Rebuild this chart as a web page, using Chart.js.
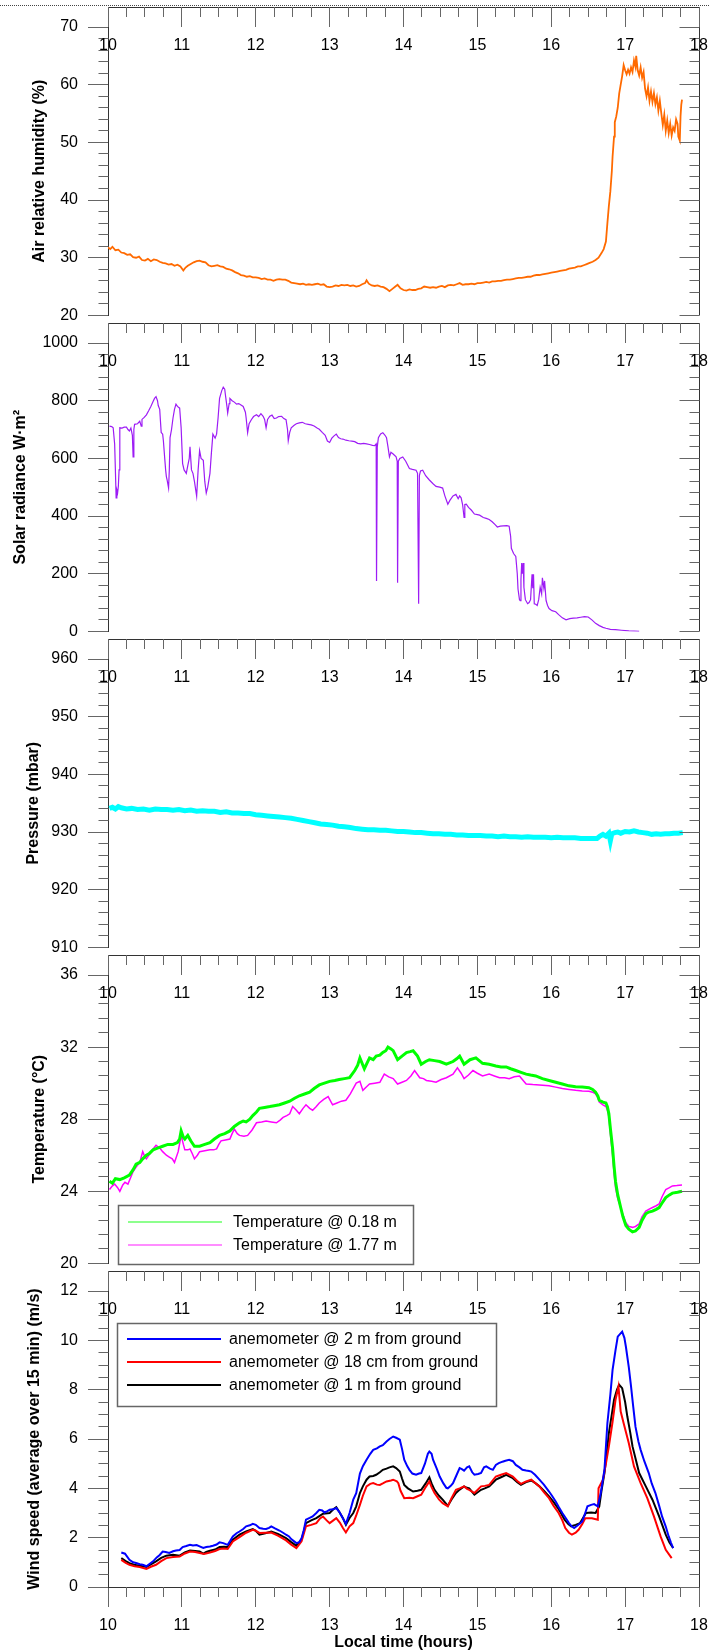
<!DOCTYPE html>
<html>
<head>
<meta charset="utf-8">
<script src="https://cdn.jsdelivr.net/npm/chart.js@4.4.1/dist/chart.umd.min.js"></script>
<style>
  html, body { margin: 0; padding: 0; background: #fff; }
  #wrap { position: relative; width: 709px; height: 1652px; overflow: hidden; }
  #wrap canvas { position: absolute; left: 0; }
  .dots { position: absolute; left: 0; top: 5px; width: 709px; border-top: 1px dotted #444; }
</style>
</head>
<body>
<div id="wrap">
  <div class="dots"></div>
  <canvas id="c1"></canvas>
  <canvas id="c2"></canvas>
  <canvas id="c3"></canvas>
  <canvas id="c4"></canvas>
  <canvas id="c5"></canvas>
</div>
<script>
const FONT = 'Arial, "Liberation Sans", sans-serif';

// axis ticks
const hourTicks = [10, 11, 12, 13, 14, 15, 16, 17, 18];
const humidityTicks = [20, 30, 40, 50, 60, 70];
const radianceTicks = [0, 200, 400, 600, 800, 1000];
const pressureTicks = [910, 920, 930, 940, 950, 960];
const tempTicks = [20, 24, 28, 32, 36];
const windTicks = [0, 2, 4, 6, 8, 10, 12];

// relative humidity (%)
const humT = [10.00,10.03,10.06,10.10,10.14,10.18,10.22,10.26,10.30,10.34,10.38,10.42,10.46,10.50,10.54,10.58,10.62,10.66,10.70,10.74,10.78,10.82,10.86,10.90,10.94,10.98,11.02,11.05,11.08,11.12,11.16,11.20,11.24,11.28,11.32,11.36,11.40,11.44,11.48,11.52,11.56,11.60,11.64,11.68,11.72,11.76,11.80,11.84,11.88,11.92,11.96,12.00,12.04,12.08,12.12,12.16,12.20,12.24,12.28,12.32,12.36,12.40,12.44,12.48,12.52,12.56,12.60,12.64,12.68,12.72,12.76,12.80,12.84,12.88,12.92,12.96,13.00,13.04,13.08,13.12,13.16,13.20,13.24,13.28,13.32,13.36,13.40,13.44,13.48,13.50,13.53,13.57,13.61,13.65,13.69,13.73,13.77,13.81,13.85,13.89,13.92,13.96,14.00,14.04,14.08,14.12,14.16,14.20,14.24,14.28,14.32,14.36,14.40,14.44,14.48,14.52,14.56,14.60,14.64,14.68,14.72,14.76,14.80,14.84,14.88,14.92,14.96,15.00,15.04,15.08,15.12,15.16,15.20,15.24,15.28,15.32,15.36,15.40,15.44,15.48,15.52,15.56,15.60,15.64,15.68,15.72,15.76,15.80,15.84,15.88,15.92,15.96,16.00,16.04,16.08,16.12,16.16,16.20,16.24,16.28,16.32,16.36,16.40,16.44,16.48,16.52,16.56,16.60,16.64,16.68,16.71,16.74,16.76,16.78,16.80,16.82,16.83,16.85,16.86,16.88,16.90,16.92,16.94,16.96,16.98,17.00,17.02,17.04,17.06,17.08,17.10,17.12,17.14,17.15,17.17,17.19,17.21,17.23,17.25,17.27,17.29,17.31,17.33,17.35,17.37,17.39,17.41,17.43,17.45,17.47,17.49,17.51,17.53,17.55,17.57,17.59,17.61,17.63,17.65,17.67,17.69,17.71,17.72,17.74,17.75,17.76,17.77];
const humV = [31.8,31.5,31.9,31.3,31.4,30.9,30.8,30.5,30.6,30.1,30.0,30.2,29.6,29.5,29.8,29.4,29.7,29.6,29.3,29.1,29.0,28.8,28.9,28.6,28.8,28.5,27.8,28.3,28.6,28.9,29.2,29.4,29.5,29.3,29.2,28.7,28.5,28.6,28.7,28.5,28.4,28.1,28.0,27.8,27.5,27.3,27.0,26.9,26.7,26.8,26.6,26.6,26.5,26.3,26.4,26.2,26.2,26.0,26.2,26.3,26.2,26.2,26.0,25.7,25.6,25.5,25.4,25.5,25.3,25.4,25.3,25.4,25.5,25.3,25.4,25.0,24.9,25.0,25.2,25.1,25.3,25.2,25.3,25.1,25.2,25.0,25.1,25.4,25.6,26.1,25.5,25.2,25.1,25.2,25.0,24.9,24.6,24.2,24.6,25.0,25.3,24.7,24.4,24.3,24.5,24.4,24.4,24.6,24.7,25.0,24.9,24.8,24.9,24.8,25.0,25.1,24.9,25.2,25.3,25.2,25.4,25.6,25.3,25.4,25.4,25.5,25.4,25.6,25.6,25.7,25.8,25.7,25.9,25.9,26.0,26.0,26.1,26.2,26.2,26.3,26.4,26.5,26.5,26.6,26.7,26.7,26.9,27.0,27.0,27.1,27.2,27.3,27.4,27.5,27.6,27.7,27.8,27.9,28.1,28.2,28.3,28.5,28.5,28.7,28.9,29.1,29.3,29.6,30.0,30.8,31.5,32.8,36.0,39.0,41.5,45.0,47.5,51.0,53.5,54.5,56.0,58.5,60.0,61.5,63.4,62.5,61.8,62.6,61.9,63.0,62.2,64.2,63.1,65.0,62.5,61.6,63.0,61.2,62.2,59.3,58.0,59.5,57.2,58.8,57.0,58.5,56.6,57.8,55.5,57.2,55.0,53.0,54.8,52.0,53.8,51.6,53.2,51.2,52.6,52.0,54.0,53.2,51.0,50.3,54.5,56.5,57.4];

// solar radiance (W/m2)
const radT = [10.02,10.05,10.07,10.09,10.10,10.11,10.12,10.13,10.14,10.15,10.16,10.19,10.22,10.25,10.27,10.29,10.31,10.33,10.34,10.35,10.36,10.40,10.43,10.45,10.46,10.49,10.52,10.55,10.58,10.61,10.63,10.65,10.67,10.68,10.70,10.71,10.72,10.74,10.75,10.77,10.78,10.79,10.80,10.82,10.83,10.84,10.86,10.88,10.90,10.92,10.94,10.97,10.99,11.01,11.03,11.06,11.08,11.10,11.11,11.13,11.15,11.17,11.20,11.22,11.24,11.26,11.29,11.31,11.33,11.35,11.38,11.40,11.42,11.45,11.47,11.49,11.51,11.54,11.56,11.58,11.59,11.61,11.62,11.64,11.65,11.68,11.71,11.74,11.77,11.80,11.83,11.86,11.87,11.89,11.91,11.94,11.97,12.01,12.04,12.07,12.10,12.12,12.14,12.16,12.19,12.22,12.25,12.28,12.31,12.35,12.38,12.41,12.43,12.44,12.46,12.48,12.52,12.55,12.59,12.63,12.67,12.71,12.75,12.79,12.83,12.86,12.90,12.94,12.97,13.00,13.03,13.06,13.09,13.12,13.15,13.18,13.22,13.26,13.30,13.34,13.38,13.42,13.46,13.50,13.54,13.58,13.61,13.63,13.635,13.645,13.66,13.69,13.72,13.75,13.77,13.79,13.81,13.83,13.86,13.90,13.915,13.92,13.93,13.95,13.99,14.03,14.08,14.12,14.17,14.19,14.205,14.215,14.23,14.26,14.30,14.35,14.40,14.44,14.49,14.53,14.56,14.60,14.63,14.67,14.71,14.74,14.76,14.78,14.80,14.82,14.83,14.85,14.88,14.92,14.96,15.00,15.03,15.08,15.12,15.16,15.20,15.24,15.27,15.31,15.35,15.40,15.43,15.45,15.46,15.49,15.52,15.54,15.55,15.57,15.58,15.59,15.60,15.61,15.62,15.63,15.65,15.68,15.70,15.72,15.74,15.75,15.76,15.77,15.79,15.81,15.83,15.85,15.87,15.88,15.90,15.91,15.93,15.95,15.97,16.01,16.06,16.10,16.15,16.20,16.25,16.30,16.35,16.40,16.45,16.50,16.55,16.60,16.65,16.70,16.74,16.80,16.87,16.95,17.05,17.19];
const radV = [712,710,706,650,560,463,490,480,503,560,706,705,708,708,700,695,705,680,605,700,718,720,729,712,735,742,751,765,780,797,808,814,800,783,770,729,690,684,660,593,560,537,525,497,560,672,700,740,770,788,780,774,706,582,560,548,575,600,640,560,548,520,469,560,627,600,593,520,480,500,548,620,684,670,684,740,808,835,847,840,819,780,757,790,808,800,795,788,790,785,780,760,740,689,720,734,745,751,745,755,746,735,706,735,746,750,738,740,745,746,738,734,700,661,690,706,715,720,723,725,720,718,716,712,705,701,690,680,660,655,670,678,684,672,668,667,663,661,660,658,652,650,652,650,648,645,644,650,175,640,672,685,689,680,672,640,605,621,615,605,590,169,590,600,605,590,565,562,559,548,96,540,556,559,540,525,512,503,500,497,470,441,455,470,475,460,470,463,440,395,440,441,430,420,407,405,403,395,392,388,380,370,362,365,366,367,365,330,288,270,260,200,147,110,107,180,237,200,237,153,110,96,100,110,198,150,198,96,94,90,110,153,130,186,150,175,107,90,79,72,68,58,47,40,44,46,47,49,51,50,40,28,20,14,11,7,6,4,2,0];

// pressure (mbar)
const presT = [10.02,10.06,10.10,10.14,10.18,10.25,10.32,10.40,10.48,10.56,10.64,10.72,10.80,10.88,10.96,11.04,11.12,11.20,11.28,11.36,11.44,11.52,11.60,11.68,11.76,11.84,11.92,12.00,12.08,12.16,12.24,12.32,12.40,12.48,12.56,12.64,12.72,12.80,12.88,12.96,13.04,13.12,13.20,13.28,13.36,13.44,13.52,13.60,13.68,13.76,13.84,13.92,14.00,14.08,14.16,14.24,14.32,14.40,14.48,14.56,14.64,14.72,14.80,14.88,14.96,15.04,15.12,15.20,15.28,15.36,15.44,15.52,15.60,15.68,15.76,15.84,15.92,16.00,16.08,16.16,16.24,16.32,16.40,16.48,16.56,16.62,16.66,16.70,16.74,16.78,16.80,16.82,16.86,16.90,16.94,17.00,17.06,17.12,17.18,17.24,17.30,17.36,17.42,17.48,17.54,17.60,17.66,17.72,17.78];
const presV = [934.1,934.3,934.0,934.4,934.2,934.0,934.1,933.9,934.0,933.8,934.0,933.9,933.9,933.8,933.9,933.7,933.8,933.6,933.7,933.6,933.6,933.4,933.5,933.3,933.3,933.2,933.2,933.0,932.9,932.8,932.7,932.6,932.5,932.4,932.2,932.0,931.8,931.6,931.4,931.3,931.2,931.0,930.9,930.8,930.6,930.5,930.4,930.4,930.3,930.3,930.2,930.1,930.1,930.0,929.9,929.9,929.8,929.7,929.7,929.6,929.6,929.5,929.5,929.4,929.4,929.4,929.3,929.3,929.2,929.3,929.2,929.2,929.1,929.2,929.1,929.1,929.1,929.0,929.1,929.0,929.0,929.0,928.9,928.9,928.9,928.9,929.3,929.6,929.3,929.8,928.5,929.7,929.9,930.0,929.8,930.1,930.0,930.2,930.0,929.9,929.8,929.6,929.7,929.6,929.7,929.7,929.8,929.8,929.9];

// temperature @ 0.18 m
const t018T = [10.02,10.06,10.10,10.16,10.22,10.29,10.34,10.38,10.43,10.47,10.52,10.56,10.61,10.67,10.74,10.81,10.88,10.94,10.97,10.99,11.02,11.04,11.08,11.12,11.17,11.24,11.31,11.38,11.44,11.51,11.58,11.65,11.71,11.78,11.83,11.87,11.92,11.96,12.01,12.05,12.12,12.19,12.25,12.32,12.39,12.46,12.52,12.59,12.66,12.73,12.79,12.86,12.93,13.00,13.07,13.13,13.20,13.27,13.34,13.38,13.41,13.47,13.54,13.59,13.63,13.68,13.72,13.76,13.79,13.83,13.86,13.92,13.98,14.04,14.09,14.13,14.19,14.24,14.30,14.35,14.42,14.49,14.58,14.67,14.72,14.76,14.82,14.90,14.98,15.07,15.16,15.25,15.32,15.39,15.45,15.52,15.59,15.66,15.72,15.79,15.88,15.97,16.06,16.15,16.24,16.33,16.42,16.51,16.56,16.60,16.63,16.65,16.70,16.74,16.76,16.78,16.80,16.83,16.85,16.87,16.90,16.94,16.97,17.01,17.05,17.10,17.14,17.19,17.23,17.28,17.32,17.37,17.42,17.46,17.50,17.55,17.60,17.64,17.71,17.77];
const t018V = [24.56,24.45,24.7,24.65,24.75,24.9,25.2,25.5,25.6,25.8,26.0,26.1,26.3,26.4,26.5,26.6,26.6,26.7,26.9,27.35,27.0,26.9,27.1,26.8,26.5,26.5,26.6,26.7,26.9,27.1,27.2,27.35,27.6,27.8,27.9,27.85,28.0,28.2,28.4,28.6,28.65,28.7,28.75,28.8,28.9,29.0,29.15,29.3,29.4,29.5,29.7,29.9,30.0,30.1,30.15,30.2,30.25,30.3,30.7,31.0,31.4,30.8,31.4,31.3,31.5,31.55,31.7,31.8,32.0,31.9,31.8,31.3,31.5,31.7,31.75,31.8,31.5,31.05,31.2,31.3,31.25,31.2,31.05,31.2,31.35,31.5,31.05,31.3,31.4,31.1,31.05,30.95,30.9,30.9,30.8,30.7,30.6,30.5,30.45,30.4,30.25,30.15,30.05,29.95,29.85,29.8,29.78,29.75,29.65,29.5,29.3,29.05,28.95,28.9,28.7,28.3,27.5,26.4,25.4,24.55,23.8,23.1,22.6,22.1,21.9,21.75,21.8,22.0,22.4,22.75,22.85,22.9,23.0,23.1,23.35,23.65,23.8,23.9,23.95,24.0];

// temperature @ 1.77 m
const t177T = [10.02,10.06,10.09,10.13,10.16,10.20,10.23,10.27,10.30,10.34,10.38,10.43,10.47,10.50,10.52,10.57,10.61,10.65,10.70,10.74,10.79,10.83,10.87,10.90,10.95,10.99,11.02,11.04,11.08,11.11,11.14,11.17,11.21,11.24,11.31,11.38,11.43,11.47,11.50,11.53,11.59,11.65,11.68,11.71,11.75,11.78,11.84,11.89,11.95,12.01,12.08,12.14,12.21,12.28,12.33,12.37,12.42,12.46,12.50,12.55,12.59,12.64,12.68,12.73,12.77,12.82,12.86,12.92,12.98,13.04,13.10,13.16,13.22,13.28,13.36,13.41,13.45,13.50,13.54,13.61,13.68,13.74,13.80,13.86,13.92,13.98,14.04,14.10,14.15,14.22,14.27,14.31,14.38,14.44,14.51,14.58,14.67,14.73,14.78,14.82,14.88,14.94,15.00,15.07,15.16,15.23,15.30,15.37,15.43,15.50,15.57,15.62,15.66,15.75,15.84,15.97,16.06,16.15,16.24,16.33,16.42,16.51,16.56,16.60,16.63,16.65,16.70,16.74,16.76,16.78,16.80,16.83,16.85,16.87,16.90,16.94,16.97,17.01,17.05,17.10,17.14,17.19,17.23,17.28,17.32,17.37,17.42,17.46,17.50,17.55,17.60,17.64,17.70,17.77];
const t177V = [24.1,24.3,24.4,24.2,24.0,24.35,24.5,24.4,24.7,25.1,25.35,25.6,26.2,25.9,25.8,26.1,26.35,26.55,26.4,26.2,26.0,25.9,25.8,25.6,26.2,27.1,26.6,26.3,26.3,26.35,26.1,25.8,26.0,26.2,26.25,26.3,26.3,26.35,26.6,26.8,26.85,26.9,27.2,27.45,27.2,27.1,27.05,27.1,27.4,27.8,27.85,27.9,27.85,27.8,27.95,28.1,28.2,28.3,28.7,28.5,28.3,28.6,28.8,28.6,28.5,28.7,28.9,29.1,29.25,28.8,28.9,29.0,29.05,29.4,30.0,30.1,29.6,29.8,29.95,30.0,30.05,30.5,30.35,30.25,29.95,30.05,30.15,30.4,30.7,30.3,30.25,30.15,30.1,30.05,30.2,30.3,30.5,30.85,30.55,30.25,30.45,30.7,30.55,30.4,30.5,30.4,30.3,30.3,30.25,30.35,30.4,30.15,29.95,29.92,29.9,29.85,29.78,29.7,29.65,29.6,29.57,29.55,29.5,29.4,29.2,28.95,28.8,28.7,28.5,28.15,27.2,26.0,25.0,24.2,23.6,23.1,22.7,22.25,22.05,22.0,22.05,22.2,22.6,22.9,23.0,23.1,23.2,23.3,23.7,24.1,24.2,24.3,24.32,24.35];

// wind speed, anemometer @ 2 m
const w2T = [10.18,10.23,10.29,10.34,10.38,10.43,10.47,10.52,10.57,10.61,10.66,10.70,10.74,10.78,10.83,10.88,10.92,10.97,11.01,11.06,11.11,11.15,11.20,11.24,11.29,11.33,11.38,11.42,11.47,11.51,11.56,11.62,11.65,11.69,11.74,11.78,11.83,11.87,11.92,11.96,12.00,12.05,12.10,12.14,12.18,12.21,12.26,12.32,12.37,12.41,12.45,12.48,12.52,12.55,12.59,12.62,12.65,12.68,12.73,12.77,12.82,12.86,12.90,12.93,12.97,13.00,13.05,13.09,13.13,13.18,13.22,13.27,13.32,13.36,13.41,13.45,13.50,13.55,13.59,13.64,13.68,13.72,13.77,13.81,13.86,13.90,13.95,13.98,14.01,14.05,14.08,14.12,14.17,14.21,14.24,14.29,14.33,14.35,14.38,14.40,14.45,14.49,14.54,14.58,14.60,14.64,14.67,14.72,14.76,14.79,14.82,14.86,14.89,14.93,14.96,15.01,15.05,15.09,15.12,15.17,15.21,15.25,15.29,15.34,15.38,15.43,15.48,15.52,15.57,15.61,15.66,15.70,15.73,15.78,15.84,15.90,15.97,16.01,16.06,16.10,16.15,16.20,16.24,16.28,16.31,16.36,16.42,16.46,16.49,16.54,16.58,16.63,16.67,16.72,16.76,16.80,16.83,16.87,16.90,16.93,16.96,16.99,17.01,17.05,17.08,17.11,17.14,17.18,17.21,17.26,17.32,17.36,17.41,17.46,17.50,17.55,17.59,17.62,17.65];
const w2V = [1.40,1.35,1.10,1.00,0.97,0.92,0.90,0.84,0.95,1.04,1.20,1.30,1.44,1.42,1.38,1.45,1.48,1.50,1.62,1.66,1.71,1.68,1.70,1.65,1.58,1.62,1.64,1.67,1.72,1.81,1.78,1.71,1.85,2.05,2.18,2.25,2.35,2.46,2.50,2.56,2.52,2.39,2.36,2.35,2.40,2.46,2.38,2.29,2.20,2.12,2.05,1.94,1.85,1.78,1.82,1.98,2.30,2.73,2.80,2.86,3.00,3.13,3.10,3.02,3.08,3.13,3.15,3.20,3.05,2.79,2.56,3.00,3.54,3.80,4.60,4.90,5.16,5.40,5.56,5.62,5.70,5.75,5.90,6.00,6.10,6.05,5.97,5.60,5.16,4.90,4.75,4.60,4.55,4.60,4.62,5.00,5.40,5.49,5.40,5.16,4.80,4.48,4.20,4.02,4.00,4.10,4.21,4.55,4.82,4.78,4.72,4.85,4.89,4.65,4.55,4.58,4.62,4.85,4.89,4.80,4.75,4.95,5.02,5.08,5.12,5.16,5.10,4.95,4.85,4.75,4.72,4.70,4.68,4.55,4.35,4.15,3.87,3.70,3.47,3.25,3.00,2.78,2.59,2.45,2.39,2.50,2.66,3.00,3.27,3.33,3.36,3.27,3.81,4.75,6.64,7.80,8.80,9.60,10.15,10.25,10.35,10.10,9.75,8.90,8.13,7.30,6.50,5.90,5.56,5.10,4.62,4.20,3.81,3.30,2.86,2.45,2.05,1.80,1.58];

// wind speed, anemometer @ 18 cm
const w018T = [10.18,10.24,10.29,10.36,10.43,10.52,10.58,10.65,10.72,10.79,10.88,10.97,11.04,11.11,11.18,11.24,11.30,11.38,11.45,11.51,11.57,11.62,11.69,11.78,11.87,11.96,12.00,12.05,12.13,12.21,12.30,12.41,12.48,12.55,12.62,12.68,12.75,12.82,12.87,12.91,12.96,13.00,13.05,13.09,13.14,13.18,13.22,13.27,13.32,13.36,13.41,13.45,13.50,13.55,13.59,13.64,13.68,13.72,13.77,13.83,13.86,13.91,13.93,13.96,14.01,14.08,14.13,14.19,14.24,14.30,14.35,14.38,14.42,14.48,14.53,14.60,14.65,14.71,14.76,14.82,14.86,14.89,14.96,15.05,15.10,15.16,15.25,15.32,15.39,15.48,15.54,15.59,15.66,15.73,15.79,15.84,15.90,15.97,16.03,16.10,16.15,16.19,16.24,16.28,16.33,16.37,16.42,16.46,16.55,16.63,16.64,16.70,16.74,16.78,16.83,16.87,16.91,16.94,16.98,17.05,17.12,17.21,17.30,17.39,17.48,17.55,17.63];
const w018V = [1.10,0.98,0.90,0.84,0.81,0.73,0.82,0.90,1.05,1.17,1.22,1.24,1.36,1.44,1.42,1.38,1.34,1.40,1.46,1.54,1.56,1.54,1.85,2.02,2.20,2.32,2.28,2.19,2.20,2.21,2.08,1.89,1.72,1.58,1.85,2.46,2.52,2.59,2.78,2.86,2.70,2.59,2.70,2.79,2.60,2.39,2.21,2.46,2.59,2.90,3.33,3.70,4.08,4.18,4.21,4.15,4.14,4.20,4.28,4.32,4.35,4.28,4.21,3.90,3.60,3.62,3.60,3.68,3.74,4.05,4.28,4.05,3.81,3.55,3.40,3.27,3.60,3.94,4.00,4.08,3.98,3.94,3.81,4.08,4.10,4.14,4.48,4.55,4.62,4.48,4.30,4.18,4.28,4.35,4.20,4.08,3.85,3.60,3.30,3.00,2.70,2.39,2.20,2.12,2.20,2.32,2.55,2.79,2.79,2.73,4.00,4.35,5.00,5.70,6.70,7.59,8.13,7.11,6.64,5.83,4.89,4.21,3.60,2.86,2.05,1.51,1.17];

// wind speed, anemometer @ 1 m
const w1T = [10.18,10.24,10.29,10.35,10.43,10.52,10.58,10.65,10.72,10.79,10.88,10.97,11.04,11.11,11.18,11.24,11.29,11.33,11.38,11.45,11.51,11.57,11.62,11.69,11.78,11.87,11.96,12.00,12.05,12.13,12.21,12.30,12.41,12.48,12.55,12.62,12.68,12.75,12.82,12.91,13.00,13.05,13.09,13.14,13.18,13.22,13.27,13.32,13.36,13.41,13.45,13.50,13.54,13.59,13.63,13.68,13.72,13.77,13.81,13.86,13.90,13.95,13.98,14.01,14.06,14.13,14.19,14.24,14.30,14.35,14.38,14.42,14.48,14.53,14.60,14.65,14.71,14.76,14.82,14.86,14.89,14.96,15.05,15.10,15.16,15.25,15.32,15.39,15.48,15.54,15.59,15.66,15.73,15.79,15.84,15.90,15.97,16.03,16.09,16.14,16.18,16.23,16.27,16.33,16.39,16.43,16.47,16.54,16.60,16.65,16.68,16.72,16.75,16.78,16.82,16.85,16.89,16.92,16.96,17.00,17.03,17.07,17.10,17.15,17.19,17.28,17.37,17.46,17.55,17.60,17.65];
const w1V = [1.17,1.05,0.97,0.90,0.86,0.81,0.92,1.04,1.18,1.27,1.31,1.27,1.40,1.48,1.46,1.44,1.35,1.42,1.47,1.52,1.62,1.63,1.62,1.92,2.12,2.25,2.35,2.28,2.12,2.18,2.25,2.15,1.98,1.82,1.67,1.92,2.59,2.70,2.79,2.97,3.00,3.15,3.24,3.00,2.79,2.52,2.80,3.00,3.27,3.81,4.08,4.35,4.48,4.50,4.55,4.65,4.75,4.80,4.85,4.89,4.82,4.68,4.40,4.14,4.00,3.87,3.90,3.94,4.20,4.45,4.20,3.94,3.70,3.54,3.29,3.55,3.81,3.95,4.08,4.02,4.00,3.74,3.94,4.00,4.08,4.35,4.45,4.55,4.41,4.25,4.14,4.25,4.32,4.20,4.08,3.90,3.67,3.45,3.20,2.95,2.73,2.55,2.46,2.52,2.59,2.80,3.00,3.02,3.00,3.27,3.90,4.62,5.40,6.24,7.00,7.59,8.00,8.20,8.06,7.50,6.91,6.25,5.70,5.10,4.62,4.08,3.54,2.86,2.12,1.80,1.58];

const pts = (ts, vs) => ts.map((t, i) => ({ x: t, y: vs[i] }));

// draws frame, top hour axis, minor ticks, right axis and legend box
function framePlugin(cfg) {
  return {
    id: 'frame',
    afterDraw(chart) {
      const { ctx, chartArea: a, scales: { x, y } } = chart;
      const al = p => Math.round(p - 0.5) + 0.5;
      const top = a.top - 20;
      const L = al(a.left), R = al(a.right);
      ctx.save();
      ctx.lineWidth = 1;
      ctx.strokeStyle = '#333';
      ctx.beginPath();
      ctx.moveTo(L, al(top)); ctx.lineTo(R, al(top));
      ctx.moveTo(R, top); ctx.lineTo(R, a.bottom);
      ctx.moveTo(L, top); ctx.lineTo(L, a.top);
      ctx.stroke();

      ctx.strokeStyle = '#666';
      ctx.beginPath();
      for (let i = 0; i <= 32; i++) {
        const px = al(x.getPixelForValue(10 + i * 0.25));
        const len = i % 4 === 0 ? 20 : 10;
        ctx.moveTo(px, top); ctx.lineTo(px, top + len);
        if (cfg.last && i % 4 !== 0) { ctx.moveTo(px, a.bottom); ctx.lineTo(px, a.bottom + 10); }
      }
      const yt = cfg.ticks;
      const n = Math.round((yt[yt.length - 1] - yt[0]) / cfg.minor);
      for (let i = 0; i <= n; i++) {
        const v = yt[0] + i * cfg.minor;
        const py = al(y.getPixelForValue(v));
        const major = yt.some(t => Math.abs(t - v) < 1e-6);
        const len = major ? 20 : 10;
        ctx.moveTo(R, py); ctx.lineTo(R - len, py);
        if (!major) { ctx.moveTo(L, py); ctx.lineTo(L - 10, py); }
      }
      ctx.stroke();

      ctx.fillStyle = '#000';
      ctx.font = '16px ' + FONT;
      ctx.textAlign = 'center';
      ctx.textBaseline = 'middle';
      hourTicks.forEach(h => ctx.fillText(String(h), x.getPixelForValue(h), top + 39));

      const lg = cfg.legend;
      if (lg) {
        ctx.strokeStyle = '#666';
        ctx.lineWidth = 1.5;
        ctx.strokeRect(lg.x + 0.5, lg.y + 0.5, lg.w, lg.h);
        ctx.textAlign = 'left';
        chart.data.datasets.forEach((ds, i) => {
          const ly = lg.y + lg.first + i * lg.gap;
          ctx.globalAlpha = lg.alpha;
          ctx.strokeStyle = ds.borderColor;
          ctx.lineWidth = lg.lw;
          ctx.beginPath();
          ctx.moveTo(lg.x + 10, ly); ctx.lineTo(lg.x + 104, ly);
          ctx.stroke();
          ctx.globalAlpha = 1;
          ctx.fillText(ds.label, lg.x + lg.textX, ly + 1);
        });
      }
      ctx.restore();
    }
  };
}

function makePanel(id, frameTop, cfg) {
  const cv = document.getElementById(id);
  cv.style.top = (frameTop - 12) + 'px';
  cv.width = 709;
  cv.height = cfg.last ? 1652 - (frameTop - 12) : 340;
  const yt = cfg.ticks;
  return new Chart(cv, {
    type: 'line',
    data: { datasets: cfg.datasets },
    options: {
      responsive: false,
      animation: false,
      events: [],
      layout: { padding: { left: 0, right: 10, top: 32, bottom: cfg.last ? 0 : 12 } },
      elements: { point: { radius: 0 }, line: { tension: 0 } },
      plugins: { legend: { display: false }, tooltip: { enabled: false } },
      scales: {
        x: {
          type: 'linear', min: 10, max: 18, position: 'bottom',
          display: !!cfg.last,
          afterBuildTicks: s => { s.ticks = hourTicks.map(v => ({ value: v })); },
          afterFit: s => {
            if (cfg.last) s.height = 65;
            s.paddingLeft = 0; s.paddingRight = 0;
          },
          grid: { drawOnChartArea: false, tickLength: 20, color: '#666' },
          border: { color: '#333' },
          ticks: { padding: 9, color: '#000', font: { size: 16 }, maxRotation: 0, autoSkip: false },
          title: { display: true, text: 'Local time (hours)', color: '#000',
                   font: { size: 16, weight: 'bold' }, padding: { top: 0, bottom: 0 } }
        },
        y: {
          type: 'linear', min: yt[0], max: yt[yt.length - 1],
          afterBuildTicks: s => { s.ticks = yt.map(v => ({ value: v })); },
          afterFit: s => { s.width = 108; },
          grid: { drawOnChartArea: false, tickLength: 20, color: '#666' },
          border: { color: '#333' },
          ticks: { padding: 10, color: '#000', font: { size: 16 }, callback: v => String(v) },
          title: { display: true, text: cfg.title, color: '#000',
                   font: { size: 16, weight: 'bold' }, padding: { top: cfg.titlePad, bottom: 0 } }
        }
      }
    },
    plugins: [framePlugin(cfg)]
  });
}

Chart.defaults.font.family = FONT;

makePanel('c1', 7, {
  ticks: humidityTicks, minor: 2, title: 'Air relative humidity (%)', titlePad: 30,
  datasets: [{ label: 'Air relative humidity', data: pts(humT, humV), borderColor: '#ff6a00', borderWidth: 1.8 }]
});

makePanel('c2', 323, {
  ticks: radianceTicks, minor: 40, title: 'Solar radiance W·m²', titlePad: 11,
  datasets: [{ label: 'Solar radiance', data: pts(radT, radV), borderColor: '#9d1cf5', borderWidth: 1.2 }]
});

makePanel('c3', 639, {
  ticks: pressureTicks, minor: 2, title: 'Pressure (mbar)', titlePad: 24,
  datasets: [{ label: 'Pressure', data: pts(presT, presV), borderColor: '#00ffff', borderWidth: 5 }]
});

makePanel('c4', 955, {
  ticks: tempTicks, minor: 0.8, title: 'Temperature (°C)', titlePad: 30,
  legend: { x: 118, y: 262, w: 295, h: 59, first: 17, gap: 23, textX: 115, lw: 1.5, alpha: 0.6 },
  datasets: [
    { label: 'Temperature @ 0.18 m', data: pts(t018T, t018V), borderColor: '#00ff00', borderWidth: 3 },
    { label: 'Temperature @ 1.77 m', data: pts(t177T, t177V), borderColor: '#ff00ff', borderWidth: 1.5 }
  ]
});

makePanel('c5', 1271, {
  ticks: windTicks, minor: 0.5, title: 'Wind speed (average over 15 min) (m/s)', titlePad: 25, last: true,
  legend: { x: 117, y: 64, w: 379, h: 83, first: 16, gap: 23, textX: 112, lw: 2, alpha: 1 },
  datasets: [
    { label: 'anemometer @ 2 m from ground', data: pts(w2T, w2V), borderColor: '#0000ff', borderWidth: 2 },
    { label: 'anemometer @ 18 cm from ground', data: pts(w018T, w018V), borderColor: '#ff0000', borderWidth: 2 },
    { label: 'anemometer @ 1 m from ground', data: pts(w1T, w1V), borderColor: '#000000', borderWidth: 2 }
  ]
});
</script>
</body>
</html>
